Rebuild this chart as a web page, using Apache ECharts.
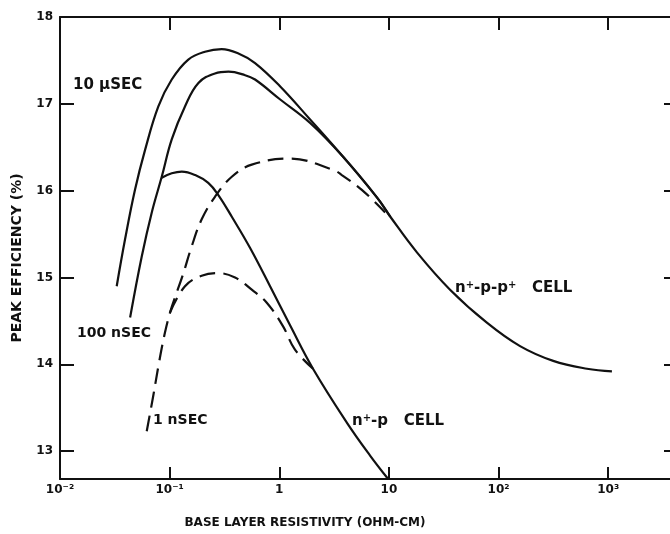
<!DOCTYPE html>
<html>
<head>
<meta charset="utf-8">
<script src="https://cdn.jsdelivr.net/npm/echarts@6/dist/echarts.min.js"></script>
<style>html,body{margin:0;padding:0;background:#fff}#c{width:670px;height:534px}</style>
</head>
<body>
<div id="c"></div>
<script>
// Tick values / labels
const xTickLabels = {'-2':'10⁻²','-1':'10⁻¹','0':'1','1':'10','2':'10²','3':'10³'};
const yTicks = [13, 14, 15, 16, 17, 18];
const yTicksRight = [13, 14, 15, 16, 17];

// Base layer resistivity (ohm-cm) vs peak efficiency (%)
const nppp_10us = [[0.0329,14.90],[0.0392,15.44],[0.0483,16.01],[0.0597,16.47],[0.0789,16.97],[0.1045,17.28],[0.148,17.51],[0.210,17.60],[0.298,17.63],[0.424,17.58],[0.601,17.47],[1.02,17.20],[1.91,16.82],[3.82,16.39],[7.80,15.92],[10.3,15.70],[18.0,15.29],[36.1,14.86],[78.2,14.48],[157,14.21],[315,14.04],[640,13.95],[1081,13.92]];
const nppp_100ns = [[0.0436,14.54],[0.0556,15.24],[0.0687,15.75],[0.0847,16.16],[0.1045,16.59],[0.138,16.97],[0.183,17.24],[0.259,17.35],[0.344,17.37],[0.488,17.33],[0.601,17.28],[1.02,17.05],[1.91,16.78],[3.82,16.39],[7.80,15.92],[10.3,15.70]];
const np_100ns = [[0.0847,16.15],[0.1045,16.20],[0.129,16.22],[0.171,16.18],[0.225,16.09],[0.278,15.95],[0.369,15.70],[0.542,15.34],[0.824,14.90],[1.254,14.45],[2.03,13.95],[4.13,13.33],[6.73,12.95],[9.84,12.68]];
const nppp_1ns = [[0.0618,13.23],[0.0707,13.63],[0.0800,14.02],[0.0897,14.34],[0.101,14.60],[0.114,14.80],[0.132,15.03],[0.159,15.36],[0.196,15.67],[0.259,15.93],[0.369,16.16],[0.561,16.30],[1.26,16.37],[3.10,16.24],[3.72,16.18],[5.66,16.01],[9.23,15.75]];
const np_1ns = [[0.101,14.60],[0.138,14.90],[0.196,15.02],[0.278,15.05],[0.395,15.00],[0.561,14.86],[0.769,14.71],[1.08,14.44],[1.39,14.17],[2.03,13.95]];

const FONT = 'DejaVu Sans';
const INK = '#111';

const chart = echarts.init(document.getElementById('c'), null, {renderer: 'canvas'});

function solid(name, data) {
  return {name, type: 'line', data, symbol: 'none', smooth: 0.4, xAxisIndex: 0, yAxisIndex: 0,
    lineStyle: {color: INK, width: 2.2, type: 'solid'}, silent: true, animation: false};
}
function dashed(name, data) {
  return {name, type: 'line', data, symbol: 'none', smooth: 0.4, xAxisIndex: 0, yAxisIndex: 0,
    lineStyle: {color: INK, width: 2.2, type: [16, 8]}, silent: true, animation: false};
}

const xCommon = {type: 'log', logBase: 10, min: 0.01, max: 3981, splitLine: {show: false}};
const yCommon = {type: 'value', min: 12.68, max: 18, splitLine: {show: false}};

const cellRich = {
  b: {font: 'bold 15px ' + FONT, fill: INK},
  s: {font: 'bold 10px ' + FONT, fill: INK, verticalAlign: 'top'}
};

chart.setOption({
  backgroundColor: '#fff',
  animation: false,
  grid: {left: 60, top: 17, width: 614, height: 462, containLabel: false, outerBoundsMode: 'none'},
  xAxis: [
    Object.assign({}, xCommon, {
      position: 'bottom',
      axisLine: {show: true, lineStyle: {color: INK, width: 2}},
      axisTick: {show: true, inside: true, length: 12, lineStyle: {color: INK, width: 2}},
      axisLabel: {show: true, margin: 5, color: INK, fontFamily: FONT, fontWeight: 'bold', fontSize: 12,
        formatter: function (v) {
          const e = Math.log10(v);
          const r = Math.round(e);
          if (Math.abs(e - r) > 1e-6) return '';
          return xTickLabels[String(r)] || '';
        }}
    }),
    Object.assign({}, xCommon, {
      position: 'top',
      axisLine: {show: true, lineStyle: {color: INK, width: 2}},
      axisTick: {show: true, inside: true, length: 13, lineStyle: {color: INK, width: 2}},
      axisLabel: {show: false}
    })
  ],
  yAxis: [
    Object.assign({}, yCommon, {
      position: 'left',
      axisLine: {show: true, lineStyle: {color: INK, width: 2}},
      axisTick: {show: true, inside: true, length: 14, customValues: yTicks, lineStyle: {color: INK, width: 2}},
      axisLabel: {show: true, customValues: yTicks, margin: 7, color: INK, fontFamily: FONT, fontWeight: 'bold', fontSize: 12}
    }),
    Object.assign({}, yCommon, {
      position: 'right',
      axisLine: {show: false},
      axisTick: {show: true, inside: true, length: 10, customValues: yTicksRight, lineStyle: {color: INK, width: 2}},
      axisLabel: {show: false}
    })
  ],
  series: [
    solid('10 μSEC n+-p-p+', nppp_10us),
    solid('100 nSEC n+-p-p+', nppp_100ns),
    solid('100 nSEC n+-p', np_100ns),
    dashed('1 nSEC n+-p-p+', nppp_1ns),
    dashed('1 nSEC n+-p', np_1ns)
  ],
  graphic: [
    {type: 'text', x: 73, y: 85, style: {text: '10 μSEC', font: 'bold 15px ' + FONT, fill: INK, verticalAlign: 'middle', align: 'left'}},
    {type: 'text', x: 77, y: 333, style: {text: '100 nSEC', font: 'bold 14px ' + FONT, fill: INK, verticalAlign: 'middle', align: 'left'}},
    {type: 'text', x: 153, y: 420, style: {text: '1 nSEC', font: 'bold 14px ' + FONT, fill: INK, verticalAlign: 'middle', align: 'left'}},
    {type: 'text', x: 352, y: 421, style: {text: '{b|n}{s|+}{b|-p   CELL}', rich: cellRich, verticalAlign: 'middle', align: 'left'}},
    {type: 'text', x: 455, y: 288, style: {text: '{b|n}{s|+}{b|-p-p}{s|+}{b|   CELL}', rich: cellRich, verticalAlign: 'middle', align: 'left'}},
    {type: 'text', x: 305, y: 523, style: {text: 'BASE LAYER RESISTIVITY (OHM-CM)', font: 'bold 12px ' + FONT, fill: INK, verticalAlign: 'middle', align: 'center'}},
    {type: 'text', x: 17, y: 258, rotation: Math.PI / 2, style: {text: 'PEAK EFFICIENCY (%)', font: 'bold 14px ' + FONT, fill: INK, verticalAlign: 'middle', align: 'center'}}
  ]
});
</script>
</body>
</html>
